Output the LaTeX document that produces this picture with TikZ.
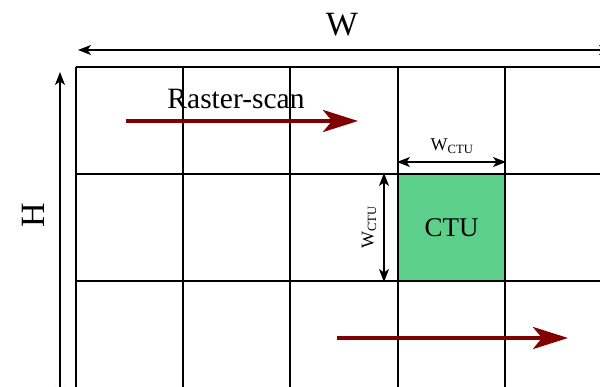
\documentclass[tikz,border=0pt]{standalone}
\usepackage{fontspec}
\setmainfont{Liberation Serif}
\usetikzlibrary{arrows.meta}
\definecolor{ctugreen}{RGB}{92,208,138}
\definecolor{scanred}{RGB}{128,0,0}
\begin{document}
\begin{tikzpicture}[x=1pt, y=1pt,
    gridline/.style={line width=2pt},
    dimline/.style={line width=1.2pt,
                    {Stealth[length=13pt,width=10pt,inset=3.5pt]}-{Stealth[length=13pt,width=10pt,inset=3.5pt]}},
    scanarrow/.style={scanred, line width=4pt,
                      -{Stealth[length=35pt,width=22pt,inset=9pt]}},
    ctubox/.style={draw, line width=2pt, fill=ctugreen, minimum size=107pt,
                   inner sep=0pt, font=\fontsize{27}{30}\selectfont},
    biglabel/.style={font=\fontsize{34}{38}\selectfont},
    scanlabel/.style={font=\fontsize{29.5}{33}\selectfont},
    dimlabel/.style={font=\fontsize{18}{20}\selectfont}]
  \useasboundingbox (0,0) rectangle (600,386);
  % the CTU block
  \node[ctubox] (ctu) at (451.5,158.5) {CTU};
  % the picture grid
  \foreach \x in {76,183,290,398,505}
    \draw[gridline] (\x,319) -- (\x,-5);
  \foreach \y in {319,212,105}
    \draw[gridline] (76,\y) -- (605,\y);
  % picture size
  \coordinate (wleft) at (78,336);
  \coordinate (wright) at (612,336);
  \coordinate (htop) at (60,314);
  \coordinate (hbottom) at (60,-14);
  \draw[dimline] (wleft) -- (wright);
  \draw[dimline] (htop) -- (hbottom);
  \node[biglabel] (wlabel) at (342,361) {W};
  \node[biglabel, rotate=90] (hlabel) at (33,171) {H};
  % CTU size
  \coordinate (ctuwl) at ([yshift=11pt]ctu.north west);
  \coordinate (ctuwr) at ([yshift=11pt]ctu.north east);
  \coordinate (ctuht) at ([xshift=-13pt]ctu.north west);
  \coordinate (ctuhb) at ([xshift=-13pt]ctu.south west);
  \draw[dimline] (ctuwl) -- (ctuwr);
  \draw[dimline] (ctuht) -- (ctuhb);
  \node[dimlabel] (ctuwlabel) at (452,240) {W\textsubscript{CTU}};
  \node[dimlabel, rotate=90] (ctuhlabel) at (369,158.5) {W\textsubscript{CTU}};
  % scan order
  \coordinate (scanastart) at (126,265);
  \coordinate (scanaend) at (358,265);
  \coordinate (scanbstart) at (337,48);
  \coordinate (scanbend) at (568,48);
  \draw[scanarrow] (scanastart) -- (scanaend);
  \draw[scanarrow] (scanbstart) -- (scanbend);
  \node[scanlabel] (scanlabel) at (236,287) {Raster-scan};
\end{tikzpicture}
\end{document}
